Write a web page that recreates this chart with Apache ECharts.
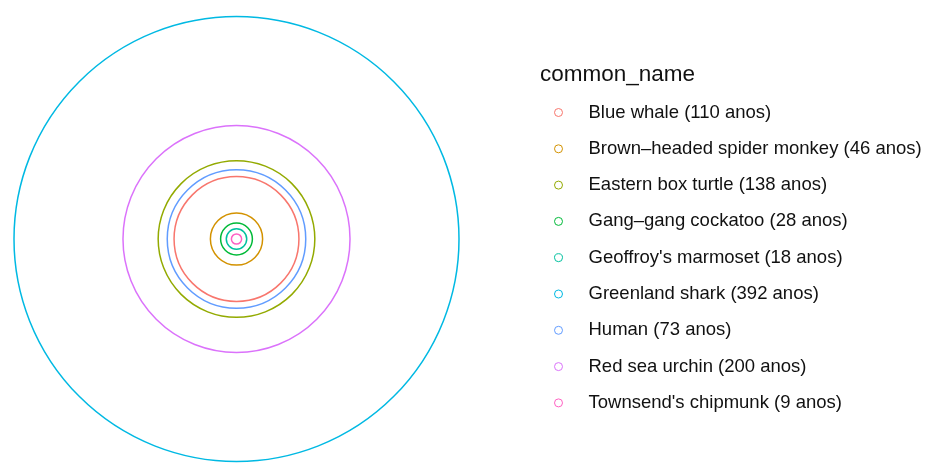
<!DOCTYPE html>
<html>
<head>
<meta charset="utf-8">
<script src="https://cdn.jsdelivr.net/npm/echarts@6/dist/echarts.min.js"></script>
<style>
html,body{margin:0;padding:0;background:#fff;}
#chart{width:929px;height:463px;}
</style>
</head>
<body>
<div id="chart"></div>
<script>
// Data
var commonNames = ["Blue whale", "Brown\u2013headed spider monkey", "Eastern box turtle", "Gang\u2013gang cockatoo", "Geoffroy's marmoset", "Greenland shark", "Human", "Red sea urchin", "Townsend's chipmunk"];
var lifespanLabel = [110, 46, 138, 28, 18, 392, 73, 200, 9];
// radius of each drawn circle (in years)
var circleRadius = [110, 46, 138, 28, 18, 392, 122, 200, 9];
var palette = ["#F8766D", "#D39200", "#93AA00", "#00BA38", "#00C19F", "#00B9E3", "#619CFF", "#DB72FB", "#FF61C3"];
var axisExtent = 392;

var chart = echarts.init(document.getElementById('chart'), null, {renderer: 'canvas'});

function renderCircle(params, api) {
  var c = api.coord([0, 0]);
  var e = api.coord([api.value(0), 0]);
  return {
    type: 'circle',
    shape: {cx: c[0], cy: c[1], r: Math.abs(e[0] - c[0])},
    style: {fill: 'none', stroke: api.visual('color'), lineWidth: 1.5}
  };
}

var series = commonNames.map(function (n, i) {
  return {
    type: 'custom',
    name: n,
    coordinateSystem: 'cartesian2d',
    clip: false,
    silent: true,
    itemStyle: {color: palette[i]},
    renderItem: renderCircle,
    data: [[circleRadius[i], 0]]
  };
});

var legendData = commonNames.map(function (n, i) {
  return {name: n, icon: 'circle', itemStyle: {color: 'rgba(255,255,255,0)', borderColor: palette[i], borderWidth: 1}};
});
var labelMap = {};
commonNames.forEach(function (n, i) { labelMap[n] = n + ' (' + lifespanLabel[i] + ' anos)'; });

chart.setOption({
  animation: false,
  backgroundColor: '#ffffff',
  title: {
    text: 'common_name',
    left: 540,
    top: 63,
    padding: 0,
    textStyle: {fontFamily: 'Liberation Sans, Arial, sans-serif', fontSize: 22.5, fontWeight: 'normal', color: '#111'}
  },
  grid: {left: 14, top: 16.5, width: 445, height: 445, containLabel: false},
  xAxis: {type: 'value', min: -axisExtent, max: axisExtent, show: false},
  yAxis: {type: 'value', min: -axisExtent, max: axisExtent, show: false},
  legend: {
    orient: 'vertical',
    left: 554,
    top: 102.5,
    padding: 0,
    itemWidth: 8,
    itemHeight: 8,
    itemGap: 16.3,
    selectedMode: false,
    data: legendData,
    formatter: function (name) { return labelMap[name]; },
    textStyle: {fontFamily: 'Liberation Sans, Arial, sans-serif', fontSize: 18.5, color: '#111', lineHeight: 20, padding: [0, 0, 0, 21]}
  },
  series: series
});
</script>
</body>
</html>
